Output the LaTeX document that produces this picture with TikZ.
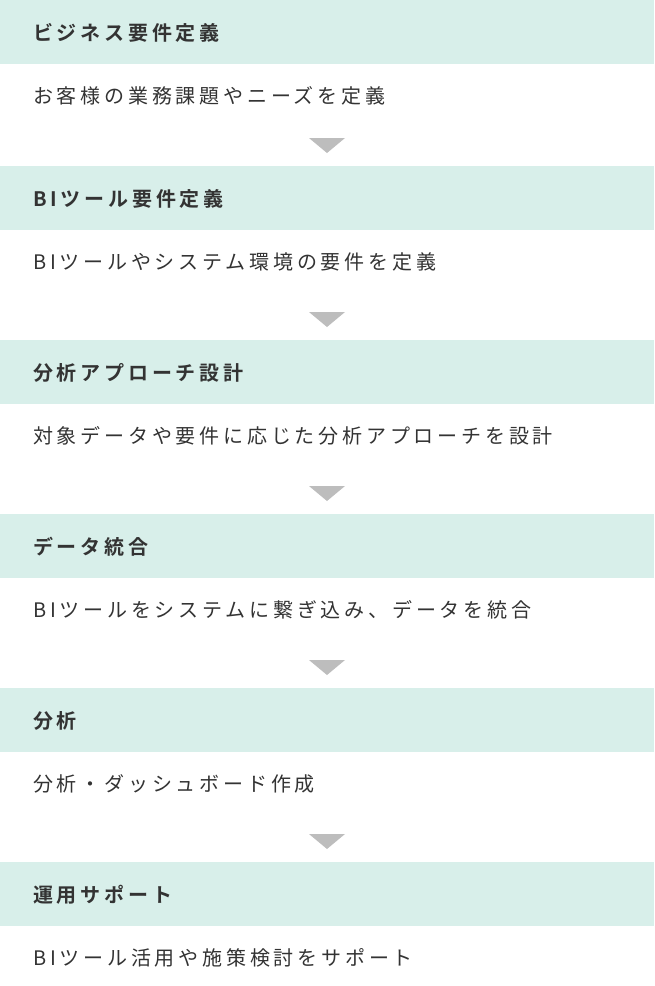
\documentclass[tikz,border=0pt]{standalone}
\usepackage{fontspec}
\setmainfont{Noto Sans CJK JP}[BoldFont={Noto Sans CJK JP Bold},LetterSpace=19]
\definecolor{hdr}{HTML}{D8EFEA}
\definecolor{tri}{HTML}{BDBDBD}
\definecolor{txt}{HTML}{333333}
\begin{document}
\begin{tikzpicture}[x=1pt,y=-1pt,
  hbar/.style={fill=hdr,draw=none},
  htext/.style={anchor=west,text=txt,font=\fontsize{20}{24}\selectfont\bfseries,inner sep=0},
  btext/.style={anchor=west,text=txt,font=\fontsize{20}{24}\selectfont,inner sep=0},
  arr/.style={fill=tri,draw=none}]
\useasboundingbox (0,0) rectangle (654,986);
\fill[hbar] (0,0) rectangle (654,64);
\node[htext] (h0) at (33,33) {ビジネス要件定義};
\node[btext] (b0) at (33,96) {お客様の業務課題やニーズを定義};
\foreach \h/\b [count=\i from 1] in {
 BIツール要件定義/BIツールやシステム環境の要件を定義,
 分析アプローチ設計/対象データや要件に応じた分析アプローチを設計,
 データ統合/BIツールをシステムに繋ぎ込み、データを統合,
 分析/分析・ダッシュボード作成,
 運用サポート/BIツール活用や施策検討をサポート}{
  \pgfmathsetmacro\yo{\i*174-8}
  \fill[hbar] (0,\yo) rectangle (654,\yo+64);
  \node[htext] (h\i) at (33,\yo+33) {\h};
  \node[btext] (b\i) at (33,\yo+96) {\b};
  \fill[arr] (309,\yo-28) -- (345,\yo-28) -- (327,\yo-13) -- cycle;
}
\end{tikzpicture}
\end{document}
